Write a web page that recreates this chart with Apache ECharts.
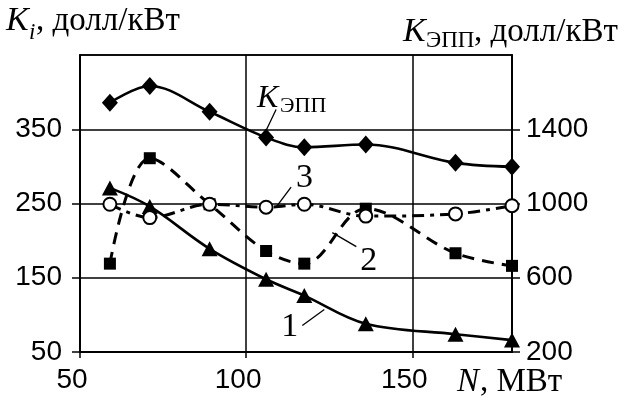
<!DOCTYPE html>
<html><head><meta charset="utf-8">
<script src="https://cdn.jsdelivr.net/npm/echarts@6/dist/echarts.min.js"></script>
<style>html,body{margin:0;padding:0;background:#fff}#c{width:625px;height:398px}</style>
</head><body><div id="c"></div>
<script>
const N = [59, 71, 89, 106, 117.5, 136, 163, 180];
const kEpp = [1543, 1633, 1494, 1356, 1303, 1318, 1219, 1198];
const curve1 = [271, 246, 189, 148, 126, 88, 74, 66];
const curve2 = [169, 311, 249, 186, 169, 243, 183, 166];
const curve3 = [249, 231, 249, 245, 249, 233, 236, 247];
const xTicks = [50, 100, 150];
const leftTicks = [50, 150, 250, 350];
const rightTicks = [200, 600, 1000, 1400];

const pairs = (ys) => N.map((x, i) => [x, ys[i]]);
const SANS = '"Liberation Sans", Arial, sans-serif';
const SERIF = '"Liberation Serif", "Times New Roman", serif';

const chart = echarts.init(document.getElementById('c'), null, {renderer: 'canvas'});
const axisLine = {show: true, lineStyle: {color: '#000', width: 2}};
const label = {color: '#000', fontFamily: SANS, fontSize: 28};

chart.setOption({
  animation: false,
  backgroundColor: '#fff',
  grid: {left: 80, right: 113, top: 55, bottom: 46, show: true, borderColor: '#000', borderWidth: 1.5, containLabel: false},
  xAxis: {
    type: 'value', min: 50, max: 180, interval: 50,
    axisLine: axisLine,
    axisTick: {show: true, length: 6, lineStyle: {color: '#000', width: 1.5}},
    axisLabel: Object.assign({}, label, {margin: 14, padding: [0, 16, 0, 0],
      showMaxLabel: false,
      formatter: v => xTicks.includes(v) ? String(v) : ''}),
    splitLine: {show: true, lineStyle: {color: '#000', width: 1.5}}
  },
  yAxis: [{
    type: 'value', min: 50, max: 450, interval: 100, position: 'left',
    axisLine: axisLine,
    axisTick: {show: true, length: 8, lineStyle: {color: '#000', width: 1.5}},
    axisLabel: Object.assign({}, label, {margin: 18, showMaxLabel: false, padding: [5, 0, 0, 0],
      formatter: v => leftTicks.includes(v) ? String(v) : ''}),
    splitLine: {show: true, lineStyle: {color: '#000', width: 1.5}}
  }, {
    type: 'value', min: 200, max: 1800, interval: 400, position: 'right',
    axisLine: axisLine,
    axisTick: {show: true, length: 8, lineStyle: {color: '#000', width: 1.5}},
    axisLabel: Object.assign({}, label, {margin: 14, showMaxLabel: false, padding: [3, 0, 0, 0],
      formatter: v => rightTicks.includes(v) ? String(v) : ''}),
    splitLine: {show: false}
  }],
  series: [{
    name: 'KЭПП', type: 'line', yAxisIndex: 1, data: pairs(kEpp), smooth: 0.35,
    symbol: 'diamond', symbolSize: [16, 18], itemStyle: {color: '#000'},
    lineStyle: {color: '#000', width: 2.6}
  }, {
    name: '1', type: 'line', data: pairs(curve1), smooth: 0.35,
    symbol: 'triangle', symbolSize: [16, 15], itemStyle: {color: '#000'},
    lineStyle: {color: '#000', width: 2.6}
  }, {
    name: '2', type: 'line', data: pairs(curve2), smooth: 0.35,
    symbol: 'rect', symbolSize: 12, itemStyle: {color: '#000'},
    lineStyle: {color: '#000', width: 3, type: [12, 8]}
  }, {
    name: '3', type: 'line', data: pairs(curve3), smooth: 0.35,
    symbol: 'emptyCircle', symbolSize: 13, itemStyle: {color: '#000', borderWidth: 1.2},
    lineStyle: {color: '#000', width: 3, type: [12, 6, 4, 6]}
  }]
});

function txt(x, y, text, font, extra) {
  return Object.assign({type: 'text', x: x, y: y, z: 100,
    style: {text: text, font: font, fill: '#000', verticalAlign: 'bottom', align: 'left'}}, extra || {});
}
function seg(x1, y1, x2, y2) {
  return {type: 'line', z: 100, shape: {x1: x1, y1: y1, x2: x2, y2: y2}, style: {stroke: '#000', lineWidth: 1.3}};
}
const pL = (i, ys) => chart.convertToPixel({xAxisIndex: 0, yAxisIndex: 0}, [N[i], ys[i]]);
const pR = (i, ys) => chart.convertToPixel({xAxisIndex: 0, yAxisIndex: 1}, [N[i], ys[i]]);

const k = pR(3, kEpp);
const c3 = pL(3, curve3);
const c2 = pL(4, curve2);
const c1 = pL(4, curve1);

const g = [
  // axis titles
  txt(6, 38, 'K', 'italic 34px ' + SERIF),
  txt(29, 44, 'i', 'italic 23px ' + SERIF),
  txt(36, 38, ', долл/кВт', '33px ' + SERIF),
  txt(403, 49, 'K', 'italic 34px ' + SERIF),
  txt(426, 52, 'ЭПП', '23px ' + SERIF),
  txt(474, 49, ', долл/кВт', '33px ' + SERIF),
  txt(457, 399, 'N', 'italic 33px ' + SERIF),
  txt(480, 399, ', МВт', '33px ' + SERIF),
  // annotations
  seg(k[0], k[1] - 7, k[0] + 10, k[1] - 28),
  txt(k[0] - 9, k[1] - 23, 'K', 'italic 32px ' + SERIF),
  txt(k[0] + 14, k[1] - 20, 'ЭПП', '22px ' + SERIF),
  seg(c3[0] + 10, c3[1], c3[0] + 25, c3[1] - 20),
  txt(c3[0] + 30, c3[1] - 12, '3', '34px ' + SERIF),
  seg(c2[0] + 28, c2[1] - 31, c2[0] + 52, c2[1] - 17),
  txt(c2[0] + 56, c2[1] + 14, '2', '34px ' + SERIF),
  seg(c1[0] - 2, c1[1] + 30, c1[0] + 20, c1[1] + 14),
  txt(c1[0] - 23, c1[1] + 49, '1', '34px ' + SERIF)
];
chart.setOption({graphic: g});
</script>
</body></html>
